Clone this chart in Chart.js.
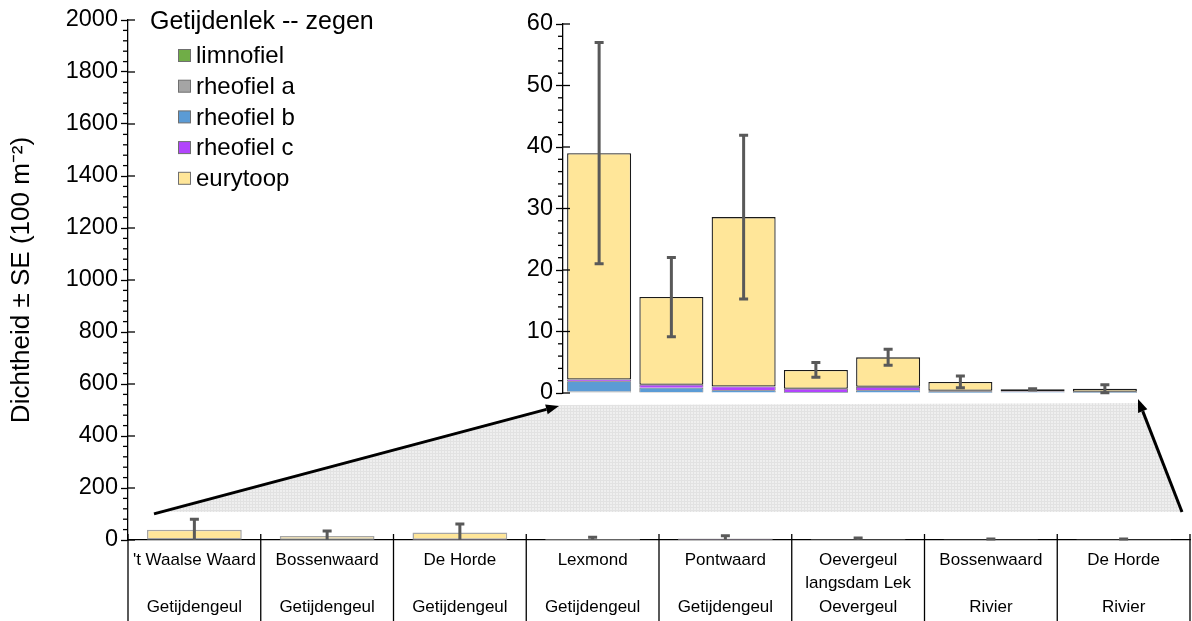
<!DOCTYPE html>
<html>
<head>
<meta charset="utf-8">
<script src="https://cdn.jsdelivr.net/npm/chart.js@4/dist/chart.umd.min.js"></script>
<style>
  html, body { margin: 0; padding: 0; background: #fff; }
  #wrap { position: relative; width: 1192px; height: 621px; overflow: hidden; }
  #wrap canvas { position: absolute; left: 0; top: 0; }
</style>
</head>
<body>
<div id="wrap">
  <canvas id="overview" width="1192" height="621"></canvas>
  <canvas id="detail" width="1192" height="621"></canvas>
</div>
<script>
// Sampling sites and habitat type per site
const sites = ["'t Waalse Waard", 'Bossenwaard', 'De Horde', 'Lexmond', 'Pontwaard',
  ['Oevergeul', 'langsdam Lek'], 'Bossenwaard', 'De Horde'];
const habitats = ['Getijdengeul', 'Getijdengeul', 'Getijdengeul', 'Getijdengeul', 'Getijdengeul',
  'Oevergeul', 'Rivier', 'Rivier'];

// Ecological groups (stack order bottom -> top)
const groupNames = ['limnofiel', 'rheofiel a', 'rheofiel b', 'rheofiel c', 'eurytoop'];
const groupColors = ['#70AD47', '#A5A5A5', '#5B9BD5', '#B245FC', '#FFE699'];

// Density per group (100 m^-2)
const limnofiel = [0, 0, 0, 0, 0, 0, 0, 0];
const rheofielA = [0.25, 0.15, 0.1, 0.05, 0.1, 0.05, 0.1, 0.05];
const rheofielB = [1.65, 0.7, 0.35, 0.1, 0.35, 0.25, 0.1, 0.15];
const rheofielC = [0.3, 0.5, 0.6, 0.55, 0.55, 0.05, 0.05, 0.0];
const eurytoop = [36.8, 14.25, 27.55, 3.05, 4.8, 1.45, 0.35, 0.5];

// Standard error of the total density (detail panel)
const seTotal = [18.0, 6.45, 13.3, 1.2, 1.3, 0.95, 0.1, 0.65];
// Error half-widths as drawn in the overview panel
const errOverview = [41, 19, 33, 7, 11, 6, 3, 3];

// Axis ranges
const overviewMax = 2000, overviewStep = 200, overviewMinor = 40;
const detailMax = 60, detailStep = 10, detailMinor = 2;

const legendTitle = 'Getijdenlek -- zegen';
const yTitle = 'Dichtheid \u00B1 SE (100 m\u207B\u00B2)';

const FONT = "'Liberation Sans', Arial, Helvetica, sans-serif";
const series = [limnofiel, rheofielA, rheofielB, rheofielC, eurytoop];
const totals = sites.map((_, i) => series.reduce((s, arr) => s + arr[i], 0));

// Minor ticks outside, major ticks crossing the y axis
const axisTicks = {
  id: 'axisTicks',
  afterDraw(chart, args, opts) {
    const y = chart.scales.y, ctx = chart.ctx, x0 = chart.chartArea.left;
    ctx.save();
    ctx.strokeStyle = '#000';
    ctx.lineWidth = 1.3;
    const n = Math.round((y.max - y.min) / opts.minor);
    for (let k = 0; k <= n; k++) {
      const v = y.min + k * opts.minor;
      const py = y.getPixelForValue(v);
      const major = (k * opts.minor) % opts.major === 0;
      ctx.beginPath();
      if (major) { ctx.moveTo(x0, py); ctx.lineTo(x0 + 7, py); }
      else { ctx.moveTo(x0 - 5, py); ctx.lineTo(x0, py); }
      ctx.stroke();
    }
    ctx.restore();
  }
};

// Error bars centred on each stacked bar
const errorBars = {
  id: 'errorBars',
  afterDatasetsDraw(chart, args, opts) {
    const ctx = chart.ctx, y = chart.scales.y;
    const meta = chart.getDatasetMeta(chart.data.datasets.length - 1);
    ctx.save();
    ctx.strokeStyle = '#595959';
    ctx.lineWidth = 3;
    ctx.lineCap = 'butt';
    opts.err.forEach((e, i) => {
      const x = meta.data[i].x;
      const top = y.getPixelForValue(totals[i] + e);
      const bot = y.getPixelForValue(Math.max(0, totals[i] - e));
      ctx.beginPath();
      ctx.moveTo(x, bot); ctx.lineTo(x, top);
      ctx.moveTo(x - 4.5, top); ctx.lineTo(x + 4.5, top);
      if (totals[i] - e > 0) { ctx.moveTo(x - 4.5, bot); ctx.lineTo(x + 4.5, bot); }
      ctx.stroke();
    });
    ctx.restore();
  }
};

// Vertical separators between category labels
const dividers = {
  id: 'dividers',
  afterDraw(chart) {
    const x = chart.scales.x, ctx = chart.ctx;
    const n = sites.length, w = (x.right - x.left) / n;
    ctx.save();
    ctx.strokeStyle = '#000';
    ctx.lineWidth = 1.3;
    for (let i = 0; i <= n; i++) {
      const px = Math.min(x.left + i * w, chart.width - 2);
      ctx.beginPath();
      ctx.moveTo(px, chart.chartArea.bottom - 6);
      ctx.lineTo(px, chart.height);
      ctx.stroke();
    }
    ctx.restore();
  }
};

// Legend block with title
const groupLegend = {
  id: 'groupLegend',
  afterDraw(chart) {
    const ctx = chart.ctx;
    ctx.save();
    ctx.fillStyle = '#000';
    ctx.textBaseline = 'middle';
    ctx.font = '25px ' + FONT;
    ctx.fillText(legendTitle, 150, 22);
    ctx.font = '24px ' + FONT;
    groupNames.forEach((name, i) => {
      const cy = 55.5 + i * 30.7;
      ctx.fillStyle = groupColors[i];
      ctx.fillRect(178.5, cy - 6, 12, 12);
      ctx.strokeStyle = '#6f6f6f';
      ctx.lineWidth = 1;
      ctx.strokeRect(178.5, cy - 6, 12, 12);
      ctx.fillStyle = '#000';
      ctx.fillText(name, 196, cy + 1);
    });
    ctx.restore();
  }
};

function datasets(borderMain, detail) {
  return groupNames.map((name, g) => ({
    label: name,
    data: series[g],
    backgroundColor: groupColors[g],
    borderColor: g === 4 ? borderMain : '#555',
    borderWidth: g === 4 ? (detail ? 1.3 : 1.5) : 0.8,
    borderSkipped: g === 4 ? false : 'start',
    barPercentage: detail ? 0.886 : 0.714,
    categoryPercentage: 1
  }));
}

const overviewLabels = sites.map((s, i) => {
  const top = Array.isArray(s) ? s : [s, ''];
  return [...top, habitats[i]];
});

const plainNumber = (v) => String(v);

const overview = new Chart(document.getElementById('overview'), {
  type: 'bar',
  data: { labels: overviewLabels, datasets: datasets('#a6a6a6', false) },
  options: {
    responsive: false,
    animation: false,
    events: [],
    layout: { padding: { left: 0, top: 20, right: 2, bottom: 0 } },
    plugins: {
      legend: { display: false },
      tooltip: { enabled: false },
      axisTicks: { minor: overviewMinor, major: overviewStep },
      errorBars: { err: errOverview }
    },
    scales: {
      x: {
        stacked: true,
        grid: { display: false, drawTicks: false },
        border: { display: true, color: '#000', width: 1.3 },
        ticks: {
          autoSkip: false, maxRotation: 0, padding: 8, color: '#000',
          font: { family: FONT, size: 17, lineHeight: 1.4 }
        },
        afterFit(scale) { scale.height = 81; }
      },
      y: {
        stacked: true,
        min: 0, max: overviewMax,
        ticks: { stepSize: overviewStep, padding: 3, color: '#000', callback: plainNumber,
          font: { family: FONT, size: 23.5 } },
        grid: { display: true, drawOnChartArea: false, drawTicks: true, tickLength: 7, tickColor: '#000', tickWidth: 1.3 },
        border: { display: true, color: '#000', width: 1.3 },
        title: {
          display: true, text: yTitle, color: '#000',
          font: { family: FONT, size: 26, lineHeight: 1.2 }, padding: { top: 6, bottom: 0 }
        },
        afterFit(scale) { scale.width = 128; }
      }
    }
  },
  plugins: [axisTicks, errorBars, dividers, groupLegend]
});

// Shaded zoom band and arrows linking the overview to the detail panel
const zoomBand = {
  id: 'zoomBand',
  beforeDraw(chart) {
    const ctx = chart.ctx, ia = chart.chartArea;
    const oa = overview.chartArea;
    const ovMeta = overview.getDatasetMeta(4).data[0];
    const bottomY = overview.scales.y.getPixelForValue(108);
    const bl = { x: ovMeta.x - ovMeta.width / 2 + 7, y: bottomY };
    const br = { x: oa.right - 8, y: bottomY };
    const tl = { x: ia.left - 4, y: ia.bottom + 12 };
    const tr = { x: ia.right - 3, y: ia.bottom + 10 };

    const tile = document.createElement('canvas');
    tile.width = 3; tile.height = 3;
    const t = tile.getContext('2d');
    t.fillStyle = '#efefef'; t.fillRect(0, 0, 3, 3);
    t.fillStyle = '#e2e2e2'; t.fillRect(0, 0, 3, 1); t.fillRect(0, 0, 1, 3);

    ctx.save();
    ctx.fillStyle = ctx.createPattern(tile, 'repeat');
    ctx.beginPath();
    ctx.moveTo(tl.x, tl.y); ctx.lineTo(tr.x, tr.y);
    ctx.lineTo(br.x, br.y); ctx.lineTo(bl.x, bl.y);
    ctx.closePath();
    ctx.fill();

    const arrow = (from, to) => {
      const ang = Math.atan2(to.y - from.y, to.x - from.x);
      const len = 13, half = 5;
      const bx = to.x - len * Math.cos(ang), by = to.y - len * Math.sin(ang);
      ctx.strokeStyle = '#000'; ctx.lineWidth = 3;
      ctx.beginPath(); ctx.moveTo(from.x, from.y); ctx.lineTo(bx, by); ctx.stroke();
      ctx.fillStyle = '#000';
      ctx.beginPath();
      ctx.moveTo(to.x, to.y);
      ctx.lineTo(bx + half * Math.sin(ang), by - half * Math.cos(ang));
      ctx.lineTo(bx - half * Math.sin(ang), by + half * Math.cos(ang));
      ctx.closePath(); ctx.fill();
    };
    arrow({ x: bl.x, y: bl.y + 2 }, { x: tl.x, y: tl.y + 1 });
    arrow({ x: br.x, y: br.y }, { x: tr.x, y: tr.y - 4 });
    ctx.restore();
  }
};

const detail = new Chart(document.getElementById('detail'), {
  type: 'bar',
  data: { labels: sites.map(s => Array.isArray(s) ? s.join(' ') : s), datasets: datasets('#1a1a1a', true) },
  options: {
    responsive: false,
    animation: false,
    events: [],
    layout: { padding: { left: 503, top: 24, right: 51, bottom: 228 } },
    plugins: {
      legend: { display: false },
      tooltip: { enabled: false },
      axisTicks: { minor: detailMinor, major: detailStep },
      errorBars: { err: seTotal }
    },
    scales: {
      x: { stacked: true, display: false },
      y: {
        stacked: true,
        min: 0, max: detailMax,
        ticks: { stepSize: detailStep, padding: 3, color: '#000', callback: plainNumber,
          font: { family: FONT, size: 23.5 } },
        grid: { display: true, drawOnChartArea: false, drawTicks: true, tickLength: 7, tickColor: '#000', tickWidth: 1.3 },
        border: { display: true, color: '#000', width: 1.3 },
        afterFit(scale) { scale.width = 60; }
      }
    }
  },
  plugins: [zoomBand, axisTicks, errorBars]
});
</script>
</body>
</html>
